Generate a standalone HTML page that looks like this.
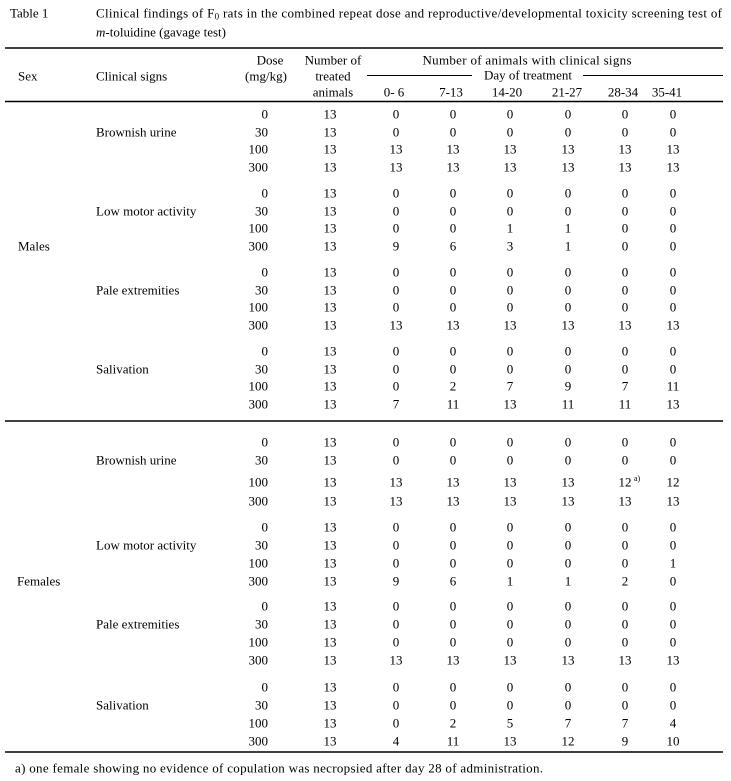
<!DOCTYPE html>
<html><head><meta charset="utf-8"><style>
html,body{margin:0;padding:0;background:#fff;}
svg{display:block;}
text{font-family:"Liberation Serif",serif;font-size:13px;fill:#000;}
</style></head><body>
<svg width="731" height="781" viewBox="0 0 731 781" xmlns="http://www.w3.org/2000/svg">
<rect width="731" height="781" fill="#fff"/>
<!-- title -->
<text x="10" y="17.5">Table 1</text>
<text x="96" y="17.5" textLength="626" lengthAdjust="spacing">Clinical findings of F<tspan font-size="9" dy="2">0</tspan><tspan dy="-2"> rats in the combined repeat dose and reproductive/developmental toxicity screening test of</tspan></text>
<text x="96" y="36.5"><tspan font-style="italic">m</tspan>-toluidine (gavage test)</text>
<!-- lines -->
<line x1="5" y1="48" x2="723" y2="48" stroke="#000" stroke-width="1.5"/>
<line x1="5" y1="101.5" x2="723" y2="101.5" stroke="#000" stroke-width="1.5"/>
<line x1="5" y1="421" x2="723" y2="421" stroke="#000" stroke-width="1.5"/>
<line x1="5" y1="752" x2="723" y2="752" stroke="#000" stroke-width="1.5"/>
<line x1="367" y1="75.5" x2="472" y2="75.5" stroke="#000" stroke-width="1"/>
<line x1="583" y1="75.5" x2="723" y2="75.5" stroke="#000" stroke-width="1"/>
<!-- header -->
<text x="18" y="80.5">Sex</text>
<text x="96" y="80.5">Clinical signs</text>
<g text-anchor="middle">
<text x="270" y="64.5">Dose</text>
<text x="266" y="80.5">(mg/kg)</text>
<text x="333" y="64.5">Number of</text>
<text x="333" y="80.5">treated</text>
<text x="333" y="96.5">animals</text>
<text x="527" y="64.5" textLength="209" lengthAdjust="spacing">Number of animals with clinical signs</text>
<text x="528" y="79.5">Day of treatment</text>
<text x="394" y="96.5">0- 6</text>
<text x="451" y="96.5">7-13</text>
<text x="507" y="96.5">14-20</text>
<text x="567" y="96.5">21-27</text>
<text x="623" y="96.5">28-34</text>
<text x="667" y="96.5">35-41</text>
</g>
<!-- labels -->
<text x="96" y="136.5">Brownish urine</text>
<text x="96" y="215.5">Low motor activity</text>
<text x="96" y="294.5">Pale extremities</text>
<text x="96" y="373.5">Salivation</text>
<text x="18" y="250.5">Males</text>
<text x="96" y="464.5">Brownish urine</text>
<text x="96" y="549.5">Low motor activity</text>
<text x="96" y="628.5">Pale extremities</text>
<text x="96" y="709.5">Salivation</text>
<text x="17" y="585.5">Females</text>
<!-- dose column -->
<g text-anchor="end">
<text x="268" y="118.5">0</text><text x="268" y="136.5">30</text><text x="268" y="153.5">100</text><text x="268" y="171.5">300</text>
<text x="268" y="197.5">0</text><text x="268" y="215.5">30</text><text x="268" y="232.5">100</text><text x="268" y="250.5">300</text>
<text x="268" y="276.5">0</text><text x="268" y="294.5">30</text><text x="268" y="311.5">100</text><text x="268" y="329.5">300</text>
<text x="268" y="355.5">0</text><text x="268" y="373.5">30</text><text x="268" y="390.5">100</text><text x="268" y="408.5">300</text>
<text x="268" y="446.5">0</text><text x="268" y="464.5">30</text><text x="268" y="486.5">100</text><text x="268" y="505.5">300</text>
<text x="268" y="531.5">0</text><text x="268" y="549.5">30</text><text x="268" y="567.5">100</text><text x="268" y="585.5">300</text>
<text x="268" y="610.5">0</text><text x="268" y="628.5">30</text><text x="268" y="646.5">100</text><text x="268" y="664.5">300</text>
<text x="268" y="691.5">0</text><text x="268" y="709.5">30</text><text x="268" y="727.5">100</text><text x="268" y="745.5">300</text>
</g>
<g text-anchor="middle">
<!-- Males Brownish -->
<text x="330" y="118.5">13</text><text x="396" y="118.5">0</text><text x="453" y="118.5">0</text><text x="510" y="118.5">0</text><text x="568" y="118.5">0</text><text x="625" y="118.5">0</text><text x="673" y="118.5">0</text>
<text x="330" y="136.5">13</text><text x="396" y="136.5">0</text><text x="453" y="136.5">0</text><text x="510" y="136.5">0</text><text x="568" y="136.5">0</text><text x="625" y="136.5">0</text><text x="673" y="136.5">0</text>
<text x="330" y="153.5">13</text><text x="396" y="153.5">13</text><text x="453" y="153.5">13</text><text x="510" y="153.5">13</text><text x="568" y="153.5">13</text><text x="625" y="153.5">13</text><text x="673" y="153.5">13</text>
<text x="330" y="171.5">13</text><text x="396" y="171.5">13</text><text x="453" y="171.5">13</text><text x="510" y="171.5">13</text><text x="568" y="171.5">13</text><text x="625" y="171.5">13</text><text x="673" y="171.5">13</text>
<!-- Males Low motor -->
<text x="330" y="197.5">13</text><text x="396" y="197.5">0</text><text x="453" y="197.5">0</text><text x="510" y="197.5">0</text><text x="568" y="197.5">0</text><text x="625" y="197.5">0</text><text x="673" y="197.5">0</text>
<text x="330" y="215.5">13</text><text x="396" y="215.5">0</text><text x="453" y="215.5">0</text><text x="510" y="215.5">0</text><text x="568" y="215.5">0</text><text x="625" y="215.5">0</text><text x="673" y="215.5">0</text>
<text x="330" y="232.5">13</text><text x="396" y="232.5">0</text><text x="453" y="232.5">0</text><text x="510" y="232.5">1</text><text x="568" y="232.5">1</text><text x="625" y="232.5">0</text><text x="673" y="232.5">0</text>
<text x="330" y="250.5">13</text><text x="396" y="250.5">9</text><text x="453" y="250.5">6</text><text x="510" y="250.5">3</text><text x="568" y="250.5">1</text><text x="625" y="250.5">0</text><text x="673" y="250.5">0</text>
<!-- Males Pale -->
<text x="330" y="276.5">13</text><text x="396" y="276.5">0</text><text x="453" y="276.5">0</text><text x="510" y="276.5">0</text><text x="568" y="276.5">0</text><text x="625" y="276.5">0</text><text x="673" y="276.5">0</text>
<text x="330" y="294.5">13</text><text x="396" y="294.5">0</text><text x="453" y="294.5">0</text><text x="510" y="294.5">0</text><text x="568" y="294.5">0</text><text x="625" y="294.5">0</text><text x="673" y="294.5">0</text>
<text x="330" y="311.5">13</text><text x="396" y="311.5">0</text><text x="453" y="311.5">0</text><text x="510" y="311.5">0</text><text x="568" y="311.5">0</text><text x="625" y="311.5">0</text><text x="673" y="311.5">0</text>
<text x="330" y="329.5">13</text><text x="396" y="329.5">13</text><text x="453" y="329.5">13</text><text x="510" y="329.5">13</text><text x="568" y="329.5">13</text><text x="625" y="329.5">13</text><text x="673" y="329.5">13</text>
<!-- Males Salivation -->
<text x="330" y="355.5">13</text><text x="396" y="355.5">0</text><text x="453" y="355.5">0</text><text x="510" y="355.5">0</text><text x="568" y="355.5">0</text><text x="625" y="355.5">0</text><text x="673" y="355.5">0</text>
<text x="330" y="373.5">13</text><text x="396" y="373.5">0</text><text x="453" y="373.5">0</text><text x="510" y="373.5">0</text><text x="568" y="373.5">0</text><text x="625" y="373.5">0</text><text x="673" y="373.5">0</text>
<text x="330" y="390.5">13</text><text x="396" y="390.5">0</text><text x="453" y="390.5">2</text><text x="510" y="390.5">7</text><text x="568" y="390.5">9</text><text x="625" y="390.5">7</text><text x="673" y="390.5">11</text>
<text x="330" y="408.5">13</text><text x="396" y="408.5">7</text><text x="453" y="408.5">11</text><text x="510" y="408.5">13</text><text x="568" y="408.5">11</text><text x="625" y="408.5">11</text><text x="673" y="408.5">13</text>
<!-- Females Brownish -->
<text x="330" y="446.5">13</text><text x="396" y="446.5">0</text><text x="453" y="446.5">0</text><text x="510" y="446.5">0</text><text x="568" y="446.5">0</text><text x="625" y="446.5">0</text><text x="673" y="446.5">0</text>
<text x="330" y="464.5">13</text><text x="396" y="464.5">0</text><text x="453" y="464.5">0</text><text x="510" y="464.5">0</text><text x="568" y="464.5">0</text><text x="625" y="464.5">0</text><text x="673" y="464.5">0</text>
<text x="330" y="486.5">13</text><text x="396" y="486.5">13</text><text x="453" y="486.5">13</text><text x="510" y="486.5">13</text><text x="568" y="486.5">13</text><text x="625" y="486.5">12</text><text x="673" y="486.5">12</text>
<text x="330" y="505.5">13</text><text x="396" y="505.5">13</text><text x="453" y="505.5">13</text><text x="510" y="505.5">13</text><text x="568" y="505.5">13</text><text x="625" y="505.5">13</text><text x="673" y="505.5">13</text>
<!-- Females Low motor -->
<text x="330" y="531.5">13</text><text x="396" y="531.5">0</text><text x="453" y="531.5">0</text><text x="510" y="531.5">0</text><text x="568" y="531.5">0</text><text x="625" y="531.5">0</text><text x="673" y="531.5">0</text>
<text x="330" y="549.5">13</text><text x="396" y="549.5">0</text><text x="453" y="549.5">0</text><text x="510" y="549.5">0</text><text x="568" y="549.5">0</text><text x="625" y="549.5">0</text><text x="673" y="549.5">0</text>
<text x="330" y="567.5">13</text><text x="396" y="567.5">0</text><text x="453" y="567.5">0</text><text x="510" y="567.5">0</text><text x="568" y="567.5">0</text><text x="625" y="567.5">0</text><text x="673" y="567.5">1</text>
<text x="330" y="585.5">13</text><text x="396" y="585.5">9</text><text x="453" y="585.5">6</text><text x="510" y="585.5">1</text><text x="568" y="585.5">1</text><text x="625" y="585.5">2</text><text x="673" y="585.5">0</text>
<!-- Females Pale -->
<text x="330" y="610.5">13</text><text x="396" y="610.5">0</text><text x="453" y="610.5">0</text><text x="510" y="610.5">0</text><text x="568" y="610.5">0</text><text x="625" y="610.5">0</text><text x="673" y="610.5">0</text>
<text x="330" y="628.5">13</text><text x="396" y="628.5">0</text><text x="453" y="628.5">0</text><text x="510" y="628.5">0</text><text x="568" y="628.5">0</text><text x="625" y="628.5">0</text><text x="673" y="628.5">0</text>
<text x="330" y="646.5">13</text><text x="396" y="646.5">0</text><text x="453" y="646.5">0</text><text x="510" y="646.5">0</text><text x="568" y="646.5">0</text><text x="625" y="646.5">0</text><text x="673" y="646.5">0</text>
<text x="330" y="664.5">13</text><text x="396" y="664.5">13</text><text x="453" y="664.5">13</text><text x="510" y="664.5">13</text><text x="568" y="664.5">13</text><text x="625" y="664.5">13</text><text x="673" y="664.5">13</text>
<!-- Females Salivation -->
<text x="330" y="691.5">13</text><text x="396" y="691.5">0</text><text x="453" y="691.5">0</text><text x="510" y="691.5">0</text><text x="568" y="691.5">0</text><text x="625" y="691.5">0</text><text x="673" y="691.5">0</text>
<text x="330" y="709.5">13</text><text x="396" y="709.5">0</text><text x="453" y="709.5">0</text><text x="510" y="709.5">0</text><text x="568" y="709.5">0</text><text x="625" y="709.5">0</text><text x="673" y="709.5">0</text>
<text x="330" y="727.5">13</text><text x="396" y="727.5">0</text><text x="453" y="727.5">2</text><text x="510" y="727.5">5</text><text x="568" y="727.5">7</text><text x="625" y="727.5">7</text><text x="673" y="727.5">4</text>
<text x="330" y="745.5">13</text><text x="396" y="745.5">4</text><text x="453" y="745.5">11</text><text x="510" y="745.5">13</text><text x="568" y="745.5">12</text><text x="625" y="745.5">9</text><text x="673" y="745.5">10</text>
</g>
<text x="634" y="481" style="font-size:8px">a)</text>
<!-- footnote -->
<text x="15" y="772.5" textLength="528" lengthAdjust="spacing">a) one female showing no evidence of copulation was necropsied after day 28 of administration.</text>
</svg>
</body></html>
